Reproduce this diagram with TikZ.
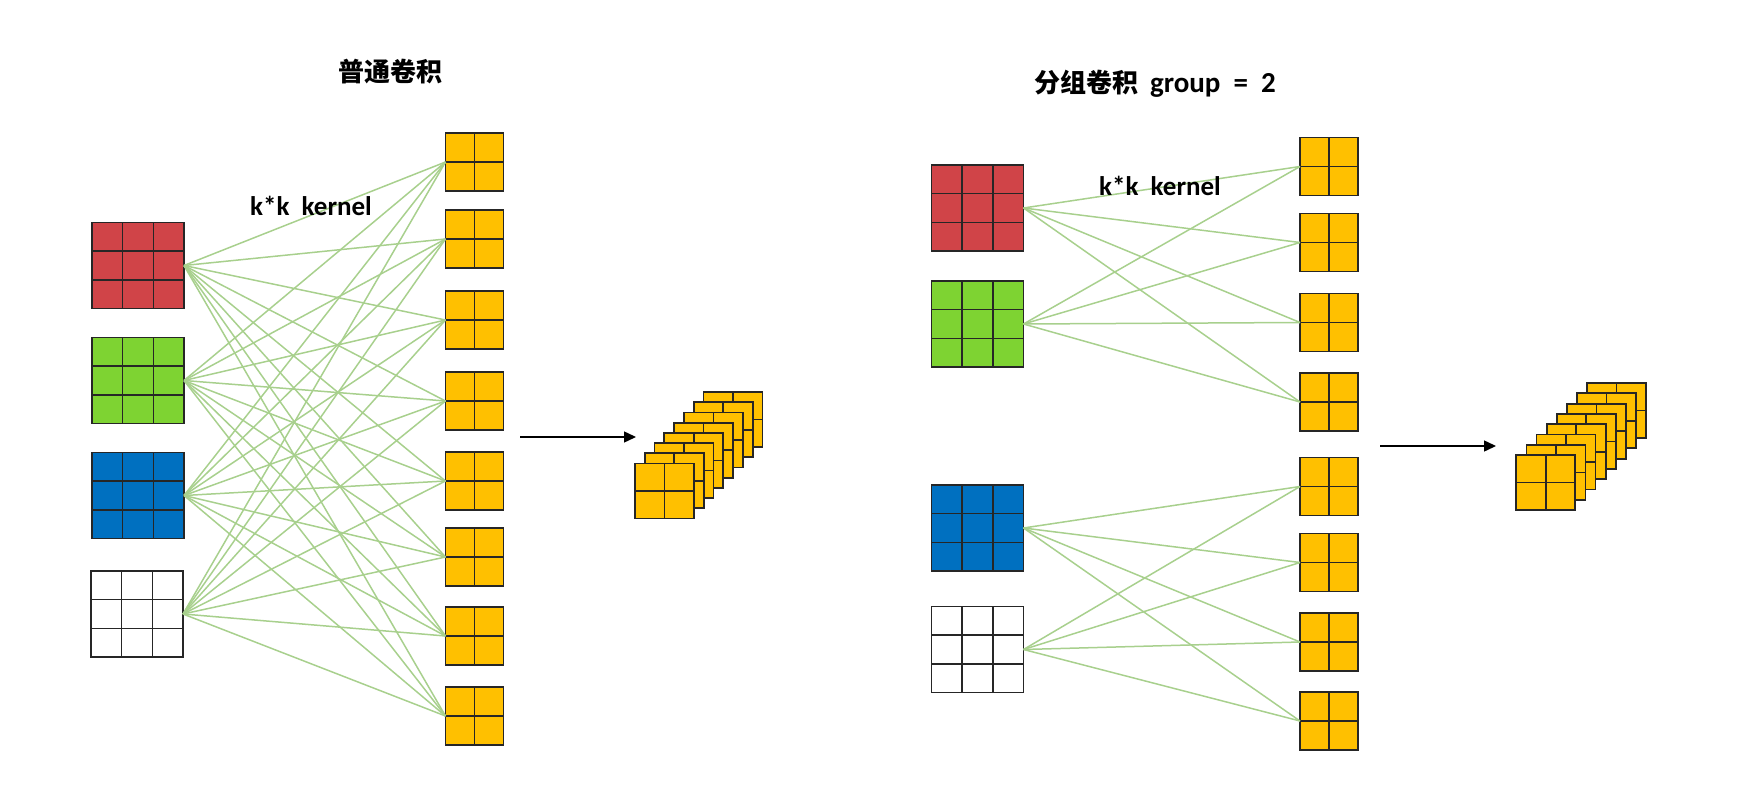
\documentclass[tikz,border=0pt]{standalone}
\usepackage{fontspec}
\setmainfont{Carlito}
\newfontfamily\cjk{Noto Sans CJK SC}
\usetikzlibrary{calc,arrows.meta}
\definecolor{kred}{HTML}{D04448}
\definecolor{kgreen}{HTML}{7ED332}
\definecolor{kblue}{HTML}{0070C0}
\definecolor{kyel}{HTML}{FFC000}
\definecolor{klink}{HTML}{A8D08D}
\definecolor{kedge}{HTML}{262626}
\tikzset{
  blk/.style={draw=kedge, line width=1.8pt, inner sep=0pt, outer sep=0pt},
  inblk/.style={blk, minimum width=92pt, minimum height=86pt},
  outblk/.style={blk, fill=kyel, minimum width=58pt, minimum height=58pt},
  stkblk/.style={blk, fill=kyel, minimum width=59pt, minimum height=55pt},
  gridln/.style={draw=kedge, line width=1.6pt},
  link/.style={draw=klink, line width=1.5pt},
  flow/.style={draw=black, line width=1.4pt, -{Triangle[length=12pt,width=11pt]}},
  titlefont/.style={font=\cjk\bfseries\fontsize{26}{30}\selectfont},
  kfont/.style={font=\bfseries\fontsize{27}{32}\selectfont},
}
\newcommand{\gridthree}[1]{%
  \foreach \f in {1/3,2/3}{%
    \draw[gridln] ($(#1.north west)!\f!(#1.north east)$) -- ($(#1.south west)!\f!(#1.south east)$);
    \draw[gridln] ($(#1.north west)!\f!(#1.south west)$) -- ($(#1.north east)!\f!(#1.south east)$);
  }%
}
\newcommand{\gridtwo}[1]{%
  \draw[gridln] (#1.north) -- (#1.south);
  \draw[gridln] (#1.west) -- (#1.east);
}
\newcommand{\inbox}[4]{% name, x, y, colour
  \node[inblk, fill=#4] (#1) at (#2,#3) {};
  \gridthree{#1}
}
\newcommand{\outbox}[3]{% name, x, y
  \node[outblk] (#1) at (#2,#3) {};
  \gridtwo{#1}
}
\begin{document}
\begin{tikzpicture}[x=1pt,y=-1pt]
\useasboundingbox (0,0) rectangle (1752,802);

% ---------- titles ----------
\node[titlefont] (t1) at (390,72) {普通卷积};
\node[titlefont] (t2) at (1155,84) {分组卷积\hspace{12pt}{\fontspec{Carlito}\bfseries\fontsize{29}{32}\selectfont group\ \ =\ \ 2}};

% ---------- left: ordinary convolution ----------
\inbox{la}{138}{265.5}{kred}
\inbox{lb}{138}{380.5}{kgreen}
\inbox{lc}{138}{495.5}{kblue}
\inbox{ld}{137}{614}{white}

\foreach \i/\y in {1/162,2/239,3/320,4/401,5/481,6/557,7/636,8/716}{
  \outbox{lo\i}{474.5}{\y}
}

\foreach \s in {la,lb,lc,ld}{
  \foreach \i in {1,...,8}{
    \draw[link] (\s.east) -- (lo\i.west);
  }
}

\node[kfont] (lk) at (311,206) {k*k\ \ kernel};

\coordinate (lA) at (520,437);
\coordinate (lB) at (636,437);
\draw[flow] (lA) -- (lB);

\foreach \k in {0,...,7}{
  \node[stkblk] (ls\k) at ({733-9.8*\k},{419.5+10.2*\k}) {};
  \gridtwo{ls\k}
}

% ---------- right: group convolution ----------
\inbox{ra}{977.5}{208}{kred}
\inbox{rb}{977.5}{324}{kgreen}
\inbox{rc}{977.5}{528}{kblue}
\inbox{rd}{977.5}{649.5}{white}

\foreach \i/\y in {1/166.5,2/242.5,3/322.5,4/402,5/486.5,6/562.5,7/642,8/721}{
  \outbox{ro\i}{1329}{\y}
}

\foreach \s in {ra,rb}{
  \foreach \i in {1,...,4}{
    \draw[link] (\s.east) -- (ro\i.west);
  }
}
\foreach \s in {rc,rd}{
  \foreach \i in {5,...,8}{
    \draw[link] (\s.east) -- (ro\i.west);
  }
}

\node[kfont] (rk) at (1160,186) {k*k\ \ kernel};

\coordinate (rA) at (1380,446);
\coordinate (rB) at (1496,446);
\draw[flow] (rA) -- (rB);

\foreach \k in {0,...,7}{
  \node[stkblk] (rs\k) at ({1616.5-10.1*\k},{410.5+10.3*\k}) {};
  \gridtwo{rs\k}
}
\end{tikzpicture}
\end{document}
